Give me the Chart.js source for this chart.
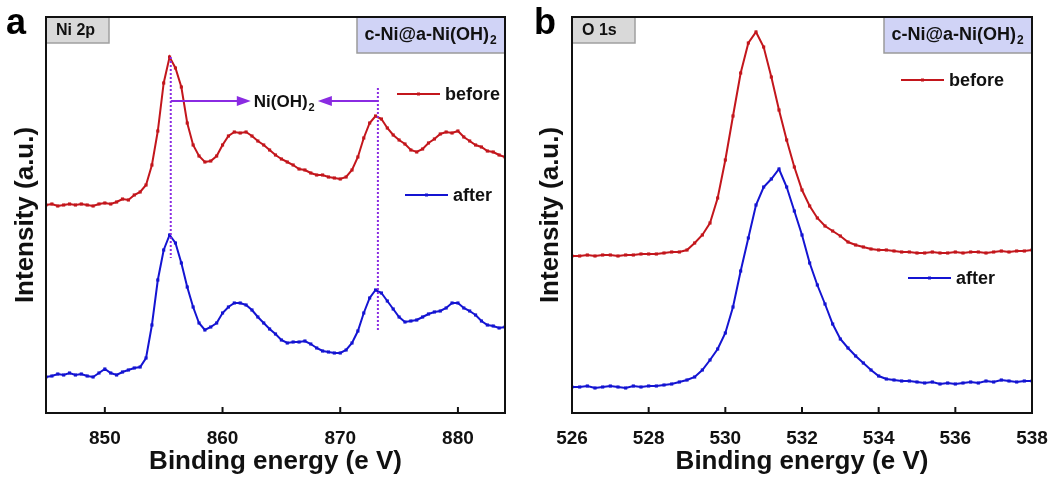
<!DOCTYPE html>
<html>
<head>
<meta charset="utf-8">
<script src="https://cdn.jsdelivr.net/npm/chart.js@4.4.1/dist/chart.umd.min.js"></script>
<style>
  html, body { margin: 0; padding: 0; background: #fff; }
  #wrap { position: relative; width: 1058px; height: 477px; }
  .panel { position: absolute; top: 0; height: 477px; }
</style>
</head>
<body>
<div id="wrap">
  <div class="panel" style="left:0;width:530px"><canvas id="chartA"></canvas></div>
  <div class="panel" style="left:530px;width:528px"><canvas id="chartB"></canvas></div>
</div>
<script>
// Ni 2p spectra (binding energy, intensity in arbitrary units)
var niEnergy = [845, 845.5, 846, 846.5, 847, 847.5, 848, 848.5, 849, 849.5, 850, 850.5, 851, 851.5, 852, 852.5, 853, 853.5, 854, 854.5,
    855, 855.5, 856, 856.5, 857, 857.5, 858, 858.5, 859, 859.5, 860, 860.5, 861, 861.5, 862, 862.5, 863, 863.5, 864, 864.5,
    865, 865.5, 866, 866.5, 867, 867.5, 868, 868.5, 869, 869.5, 870, 870.5, 871, 871.5, 872, 872.5, 873, 873.5, 874, 874.5,
    875, 875.5, 876, 876.5, 877, 877.5, 878, 878.5, 879, 879.5, 880, 880.5, 881, 881.5, 882, 882.5, 883, 883.5, 884];
var niBefore = [208, 209, 207, 208, 209, 208, 209, 208, 207, 209, 210, 209, 211, 214, 213, 218, 221, 228, 248, 282,
    330, 356, 345, 326, 290, 268, 257, 251, 252, 257, 268, 277, 281, 280, 281, 277, 272, 268, 263, 258,
    254, 251, 248, 244, 243, 240, 238, 238, 236, 235, 234, 236, 243, 256, 275, 290, 297, 294, 285, 278,
    273, 269, 263, 261, 264, 270, 274, 279, 281, 280, 282, 276, 272, 268, 266, 262, 261, 258, 256];
var niAfter = [36, 37, 39, 38, 40, 38, 39, 37, 36, 40, 44, 40, 38, 41, 43, 45, 46, 55, 88, 133,
    163, 178, 170, 150, 126, 106, 90, 83, 86, 90, 100, 106, 110, 110, 108, 103, 96, 90, 84, 79,
    73, 70, 71, 71, 72, 69, 65, 62, 61, 60, 60, 63, 70, 82, 100, 115, 123, 120, 112, 104,
    96, 91, 92, 93, 96, 99, 101, 102, 105, 110, 110, 105, 102, 98, 92, 88, 87, 85, 86];
var niTicks = [850, 860, 870, 880];

// O 1s spectra
var oEnergy = [526, 526.2, 526.4, 526.6, 526.8, 527, 527.2, 527.4, 527.6, 527.8, 528, 528.2, 528.4, 528.6, 528.8,
    529, 529.2, 529.4, 529.6, 529.8, 530, 530.2, 530.4, 530.6, 530.8, 531, 531.2, 531.4, 531.6, 531.8,
    532, 532.2, 532.4, 532.6, 532.8, 533, 533.2, 533.4, 533.6, 533.8, 534, 534.2, 534.4, 534.6, 534.8,
    535, 535.2, 535.4, 535.6, 535.8, 536, 536.2, 536.4, 536.6, 536.8, 537, 537.2, 537.4, 537.6, 537.8, 538];
var oBefore = [157, 157, 158, 157, 158, 158, 157, 158, 158, 159, 159, 159, 160, 161, 161,
    163, 170, 178, 190, 215, 253, 297, 340, 370, 381, 366, 336, 303, 273, 246,
    223, 207, 195, 187, 182, 177, 171, 168, 166, 164, 163, 163, 162, 161, 161,
    160, 160, 161, 160, 160, 161, 160, 161, 161, 160, 161, 162, 161, 162, 162, 163];
var oAfter = [26, 26, 27, 25, 26, 27, 26, 25, 27, 26, 27, 27, 28, 29, 31,
    33, 36, 43, 53, 64, 80, 106, 142, 175, 208, 226, 234, 244, 226, 202,
    178, 150, 128, 109, 89, 74, 65, 57, 50, 43, 37, 34, 33, 32, 32,
    31, 30, 31, 29, 30, 29, 30, 31, 30, 32, 31, 33, 32, 31, 32, 32];
var oTicks = [526, 528, 530, 532, 534, 536, 538];

var seriesNames = ["before", "after"];
var red = "#c3161c";
var blue = "#1414d2";
var purple = "#8a2be2";

function pairs(xs, ys) {
    return xs.map((x, i) => ({ x: x, y: ys[i] }));
}

// text with a trailing subscript "2"
function textWithSub(ctx, main, sub, x, y, size, align) {
    ctx.font = "bold " + size + "px Liberation Sans, Arial, sans-serif";
    var w1 = ctx.measureText(main).width;
    ctx.font = "bold " + Math.round(size * 0.65) + "px Liberation Sans, Arial, sans-serif";
    var w2 = ctx.measureText(sub).width;
    var start = align === "center" ? x - (w1 + w2) / 2 : (align === "right" ? x - w1 - w2 : x);
    ctx.textAlign = "left";
    ctx.textBaseline = "alphabetic";
    ctx.font = "bold " + size + "px Liberation Sans, Arial, sans-serif";
    ctx.fillText(main, start, y);
    ctx.font = "bold " + Math.round(size * 0.65) + "px Liberation Sans, Arial, sans-serif";
    ctx.fillText(sub, start + w1 + 1, y + size * 0.22);
}

var decor = {
    id: "decor",
    afterDraw(chart, args, o) {
        var ctx = chart.ctx;
        var a = chart.chartArea;
        var x = chart.scales.x, y = chart.scales.y;
        ctx.save();

        // annotations (dotted guides + arrows)
        (o.guides || []).forEach(g => {
            var px = x.getPixelForValue(g.x);
            ctx.strokeStyle = purple;
            ctx.lineWidth = 2;
            ctx.setLineDash([2, 2]);
            ctx.beginPath();
            ctx.moveTo(px, y.getPixelForValue(g.y0));
            ctx.lineTo(px, y.getPixelForValue(g.y1));
            ctx.stroke();
            ctx.setLineDash([]);
        });
        (o.arrows || []).forEach(r => {
            var x0 = x.getPixelForValue(r.from), x1 = x.getPixelForValue(r.to);
            var py = y.getPixelForValue(r.y);
            var dir = x1 > x0 ? 1 : -1;
            ctx.strokeStyle = purple;
            ctx.fillStyle = purple;
            ctx.lineWidth = 2;
            ctx.beginPath();
            ctx.moveTo(x0, py);
            ctx.lineTo(x1 - dir * 10, py);
            ctx.stroke();
            ctx.beginPath();
            ctx.moveTo(x1, py);
            ctx.lineTo(x1 - dir * 14, py - 5);
            ctx.lineTo(x1 - dir * 14, py + 5);
            ctx.closePath();
            ctx.fill();
        });
        if (o.note) {
            ctx.fillStyle = "#111";
            textWithSub(ctx, o.note.text, "2", x.getPixelForValue(o.note.x), y.getPixelForValue(o.note.y) + 6, 17, "center");
        }

        // frame
        ctx.strokeStyle = "#111";
        ctx.lineWidth = 2;
        ctx.strokeRect(a.left, a.top, a.right - a.left, a.bottom - a.top);
        x.ticks.forEach(t => {
            var px = x.getPixelForValue(t.value);
            ctx.beginPath();
            ctx.moveTo(px, a.bottom);
            ctx.lineTo(px, a.bottom - 6);
            ctx.stroke();
        });

        // grey tag, top left
        ctx.fillStyle = "#d9d9d9";
        ctx.fillRect(a.left + 1, a.top + 1, o.tagW, 25);
        ctx.strokeStyle = "#a0a0a0";
        ctx.lineWidth = 1.5;
        ctx.beginPath();
        ctx.moveTo(a.left + 1 + o.tagW, a.top + 1);
        ctx.lineTo(a.left + 1 + o.tagW, a.top + 26);
        ctx.lineTo(a.left + 1, a.top + 26);
        ctx.stroke();
        ctx.fillStyle = "#111";
        ctx.font = "bold 16px Liberation Sans, Arial, sans-serif";
        ctx.textAlign = "left";
        ctx.textBaseline = "middle";
        ctx.fillText(o.tag, a.left + 10, a.top + 14);

        // sample tag, top right
        var bw = 148;
        ctx.fillStyle = "#d0d3f6";
        ctx.fillRect(a.right - bw, a.top + 1, bw - 1, 35);
        ctx.strokeStyle = "#9a9a9a";
        ctx.lineWidth = 1.5;
        ctx.beginPath();
        ctx.moveTo(a.right - bw, a.top + 1);
        ctx.lineTo(a.right - bw, a.top + 36);
        ctx.lineTo(a.right - 1, a.top + 36);
        ctx.stroke();
        ctx.fillStyle = "#111";
        textWithSub(ctx, "c-Ni@a-Ni(OH)", "2", a.right - bw / 2 - 1, a.top + 23, 18, "center");

        // legend entries
        o.legend.forEach((l, i) => {
            var ly = a.top + l.dy;
            var lx = a.left + l.dx;
            ctx.strokeStyle = l.color;
            ctx.fillStyle = l.color;
            ctx.lineWidth = 2;
            ctx.beginPath();
            ctx.moveTo(lx, ly);
            ctx.lineTo(lx + 43, ly);
            ctx.stroke();
            ctx.fillRect(lx + 20, ly - 1.5, 3, 3);
            ctx.fillStyle = "#111";
            ctx.font = "bold 18px Liberation Sans, Arial, sans-serif";
            ctx.textAlign = "left";
            ctx.textBaseline = "middle";
            ctx.fillText(seriesNames[i], lx + 48, ly + 1);
        });

        // panel letter
        ctx.fillStyle = "#000";
        ctx.font = "bold 36px Liberation Sans, Arial, sans-serif";
        ctx.textAlign = "left";
        ctx.textBaseline = "alphabetic";
        ctx.fillText(o.letter, o.letterX, 34);
        ctx.restore();
    }
};

function makeChart(id, energy, before, after, xMin, xMax, ticks, yW, yTitlePad, padRight, deco) {
    return new Chart(id, {
        type: "line",
        data: {
            datasets: [
                { label: seriesNames[0], data: pairs(energy, before), borderColor: red, backgroundColor: red,
                  borderWidth: 2, pointRadius: 0.8, pointStyle: "rect", tension: 0 },
                { label: seriesNames[1], data: pairs(energy, after), borderColor: blue, backgroundColor: blue,
                  borderWidth: 2, pointRadius: 0.8, pointStyle: "rect", tension: 0 },
            ],
        },
        options: {
            responsive: true,
            maintainAspectRatio: false,
            animation: false,
            layout: { padding: { top: 17, right: padRight, left: 0, bottom: 0 } },
            scales: {
                x: {
                    type: "linear",
                    min: xMin,
                    max: xMax,
                    grid: { display: false },
                    border: { display: false },
                    afterBuildTicks: s => { s.ticks = ticks.map(v => ({ value: v })); },
                    afterFit: s => { s.height = 64; },
                    ticks: {
                        padding: 6,
                        color: "#111",
                        font: { family: "Liberation Sans, Arial, sans-serif", size: 19, weight: "bold" },
                        callback: v => String(v),
                    },
                    title: {
                        display: true,
                        text: "Binding energy (e V)",
                        color: "#111",
                        padding: { top: 0, bottom: 0 },
                        font: { family: "Liberation Sans, Arial, sans-serif", size: 26, weight: "bold" },
                    },
                },
                y: {
                    min: 0,
                    max: 396,
                    grid: { display: false },
                    border: { display: false },
                    ticks: { display: false },
                    afterFit: s => { s.width = yW; },
                    title: {
                        display: true,
                        text: "Intensity (a.u.)",
                        color: "#111",
                        padding: { top: yTitlePad, bottom: 0 },
                        font: { family: "Liberation Sans, Arial, sans-serif", size: 26, weight: "bold" },
                    },
                },
            },
            plugins: {
                legend: { display: false },
                tooltip: { enabled: false },
                decor: deco,
            },
        },
        plugins: [decor],
    });
}

makeChart("chartA", niEnergy, niBefore, niAfter, 845, 884, niTicks, 46, 10, 25, {
    letter: "a", letterX: 6, tag: "Ni 2p", tagW: 62,
    legend: [{ dx: 351, dy: 77, color: red }, { dx: 359, dy: 178, color: blue }],
    guides: [{ x: 855.6, y0: 356, y1: 155 }, { x: 873.2, y0: 325, y1: 83 }],
    arrows: [{ from: 855.6, to: 862.4, y: 312 }, { from: 873.2, to: 868.1, y: 312 }],
    note: { text: "Ni(OH)", x: 865.2, y: 312 },
});

makeChart("chartB", oEnergy, oBefore, oAfter, 526, 538, oTicks, 42, 5, 26, {
    letter: "b", letterX: 4, tag: "O 1s", tagW: 62,
    legend: [{ dx: 329, dy: 63, color: red }, { dx: 336, dy: 261, color: blue }],
});
</script>
</body>
</html>
